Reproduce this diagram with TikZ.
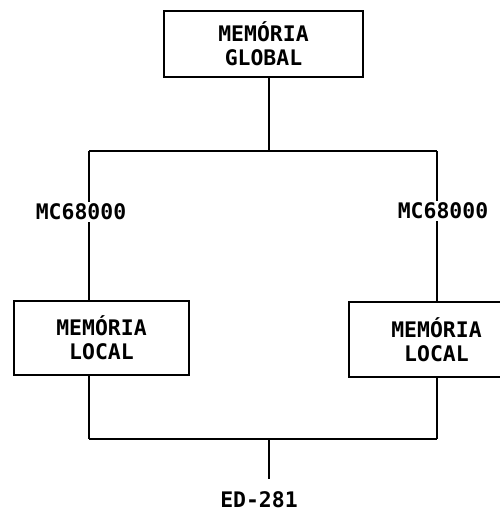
\documentclass[tikz,border=0pt]{standalone}
\usepackage{fontspec}
\setmonofont{DejaVu Sans Mono}
\usepackage{tikz}
\usetikzlibrary{calc}
\tikzset{
  membox/.style={draw,line width=1.1pt,align=center,inner sep=0pt,
    font=\ttfamily\bfseries\fontsize{12.2}{13.7}\selectfont},
  cpulabel/.style={fill=white,inner sep=1pt,
    font=\ttfamily\bfseries\fontsize{12.2}{13.7}\selectfont},
  busline/.style={line width=1.1pt}
}

\begin{document}
\begin{tikzpicture}[x=0.02cm,y=-0.02cm]
  \useasboundingbox (0,0) rectangle (500,511);
  \clip (0,0) rectangle (500,511);
  % memories
  \node[membox,minimum width=3.98cm,minimum height=1.32cm] (gmem) at (263.5,44) {MEMÓRIA\\GLOBAL};
  \node[membox,minimum width=3.5cm,minimum height=1.48cm] (lmemL) at (101.5,338) {MEMÓRIA\\LOCAL};
  \node[membox,minimum width=3.5cm,minimum height=1.5cm] (lmemR) at (436.5,339.5) {MEMÓRIA\\LOCAL};
  % bus corners
  \coordinate (topM) at (269,151);
  \coordinate (topL) at (89,151);
  \coordinate (topR) at (437,151);
  \coordinate (botL) at (89,439);
  \coordinate (botR) at (437,439);
  \coordinate (botM) at (269,439);
  \coordinate (outEnd) at (269,479);
  \draw[busline] (gmem.south -| topM) -- (topM);
  \draw[busline] (topL) -- (topR);
  \draw[busline] (topL) -- (topL |- lmemL.north);
  \draw[busline] (topR) -- (topR |- lmemR.north);
  \draw[busline] (topL |- lmemL.south) -- (botL);
  \draw[busline] (topR |- lmemR.south) -- (botR);
  \draw[busline] (botL) -- (botR);
  \draw[busline] (botM) -- (outEnd);
  % labels
  \node[cpulabel] (cpuL) at (81,212) {MC68000};
  \node[cpulabel] (cpuR) at (443,211) {MC68000};
  \node[cpulabel,anchor=north] (ext) at ($(outEnd)+(-10,10)$) {ED-281};
\end{tikzpicture}
\end{document}
